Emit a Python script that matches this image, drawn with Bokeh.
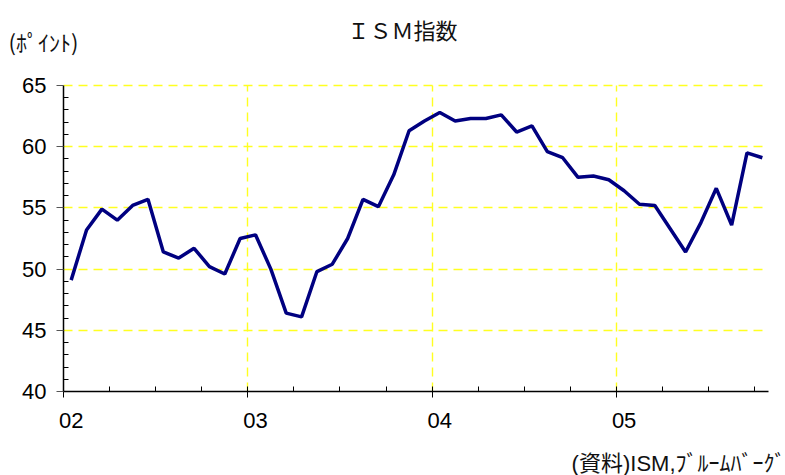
from bokeh.plotting import figure
from bokeh.models import (FixedTicker, LinearAxis, Label, Range1d, ColumnDataSource)
from bokeh.embed import file_html
from bokeh.resources import INLINE

# ISM index, monthly Jan 2002 - Oct 2005 (points)
months = list(range(46))
ism = [49.1, 53.2, 54.9, 54.0, 55.2, 55.7, 51.4, 50.9, 51.7, 50.2, 49.6, 52.5,
       52.8, 50.0, 46.4, 46.1, 49.8, 50.4, 52.5, 55.7, 55.1, 57.7, 61.3, 62.1,
       62.8, 62.1, 62.3, 62.3, 62.6, 61.2, 61.7, 59.6, 59.1, 57.5, 57.6, 57.3,
       56.4, 55.3, 55.2, 53.3, 51.4, 53.8, 56.6, 53.6, 59.5, 59.1]
year_labels = ["02", "03", "04", "05"]
year_label_pos = [0, 12, 24, 36]
year_bounds = [-0.5, 11.5, 23.5, 35.5]
quarter_bounds = [-0.5 + 3 * k for k in range(16)]
x_axis_bounds = (-0.5, 45.4)
y_major = [40, 45, 50, 55, 60, 65]
y_minor = [v for v in range(40, 66) if v % 5 != 0]

FONT_NUM = "Liberation Sans Narrow, Liberation Sans, sans-serif"
FONT_JP = "Noto Sans CJK JP"

# The frame covers the whole canvas; the axes are fixed at the data edges and
# the axes/grids are bounded to the plotting area (x 63..768 px, y 85..391 px).
W, H = 785, 475
ax_left_px, ax_right_px, ax_top_px, ax_bottom_px = 63, 768, 85, 391
px_per_x = (ax_right_px - ax_left_px) / (x_axis_bounds[1] - x_axis_bounds[0])
px_per_y = (ax_bottom_px - ax_top_px) / (y_major[-1] - y_major[0])
x_min = x_axis_bounds[0] - ax_left_px / px_per_x
x_max = x_axis_bounds[1] + (W - ax_right_px) / px_per_x
y_top = y_major[-1] + ax_top_px / px_per_y
y_bottom = y_major[0] - (H - ax_bottom_px) / px_per_y

p = figure(width=W, height=H, output_backend="svg", toolbar_location=None,
           x_range=Range1d(x_min, x_max), y_range=Range1d(y_bottom, y_top),
           min_border_left=0, min_border_right=0, min_border_top=0,
           min_border_bottom=0, outline_line_color=None)
p.background_fill_color = "white"
p.border_fill_color = "white"

src = ColumnDataSource(dict(x=months, y=ism))
p.line("x", "y", source=src, line_color="#000080", line_width=3.5)

# x axis: tick marks at year/quarter boundaries (no labels)
xa = p.xaxis[0]
xa.fixed_location = y_major[0]
xa.bounds = x_axis_bounds
xa.ticker = FixedTicker(ticks=year_bounds, minor_ticks=quarter_bounds)
xa.major_label_overrides = {b: "" for b in year_bounds}
xa.major_tick_out = 6
xa.major_tick_in = 4
xa.minor_tick_in = 5
xa.minor_tick_out = 0
xa.major_label_standoff = 0
xa.axis_line_color = "black"
xa.axis_line_width = 1.5
xa.major_tick_line_color = "black"
xa.minor_tick_line_color = "black"

# x axis labels
xl = LinearAxis(ticker=FixedTicker(ticks=year_label_pos, minor_ticks=[]),
                major_label_overrides={pos: lab for pos, lab in zip(year_label_pos, year_labels)})
xl.fixed_location = y_major[0]
xl.axis_line_color = None
xl.major_tick_line_color = None
xl.minor_tick_line_color = None
xl.major_tick_in = 0
xl.major_tick_out = 0
xl.major_label_standoff = 21
xl.major_label_text_font = FONT_NUM
xl.major_label_text_font_size = "22px"
xl.major_label_text_color = "black"
p.add_layout(xl, "below")

ya = p.yaxis[0]
ya.fixed_location = x_axis_bounds[0]
ya.bounds = (y_major[0], y_major[-1])
ya.ticker = FixedTicker(ticks=y_major, minor_ticks=y_minor)
ya.major_tick_out = 7
ya.major_tick_in = 0
ya.minor_tick_in = 5
ya.minor_tick_out = 0
ya.major_label_standoff = 10
ya.major_label_text_font = FONT_NUM
ya.major_label_text_font_size = "22px"
ya.major_label_text_color = "black"
ya.axis_line_color = "black"
ya.axis_line_width = 1.5
ya.major_tick_line_color = "#555555"
ya.minor_tick_line_color = "black"

p.xgrid.ticker = FixedTicker(ticks=year_bounds[1:])
p.xgrid.cross_bounds = (y_major[0], y_major[-1])
p.ygrid.ticker = FixedTicker(ticks=y_major[1:])
p.ygrid.cross_bounds = x_axis_bounds
for g in (p.xgrid[0], p.ygrid[0]):
    g.grid_line_color = "#ffff20"
    g.grid_line_width = 1.4
    g.grid_line_dash = "9 6"

# texts inside the frame; screen units relative to frame bottom-left (canvas here)
p.add_layout(Label(x=347, y=H - 28, x_units="screen", y_units="screen",
                   text="ＩＳＭ指数", text_font=FONT_JP, text_font_size="22px",
                   text_color="#111111", text_baseline="middle"))
p.add_layout(Label(x=8, y=H - 40, x_units="screen", y_units="screen",
                   text="(ﾎﾟｲﾝﾄ)", text_font=FONT_JP, text_font_size="22px",
                   text_color="#111111", text_baseline="middle"))
p.add_layout(Label(x=W, y=H - 463, x_units="screen", y_units="screen",
                   text="(資料)ISM,ﾌﾞﾙｰﾑﾊﾞｰｸﾞ", text_font="Liberation Sans, Noto Sans CJK JP",
                   text_font_size="22px", text_color="#111111",
                   text_baseline="middle", text_align="right"))

open("out.html", "w").write(file_html(p, INLINE))
